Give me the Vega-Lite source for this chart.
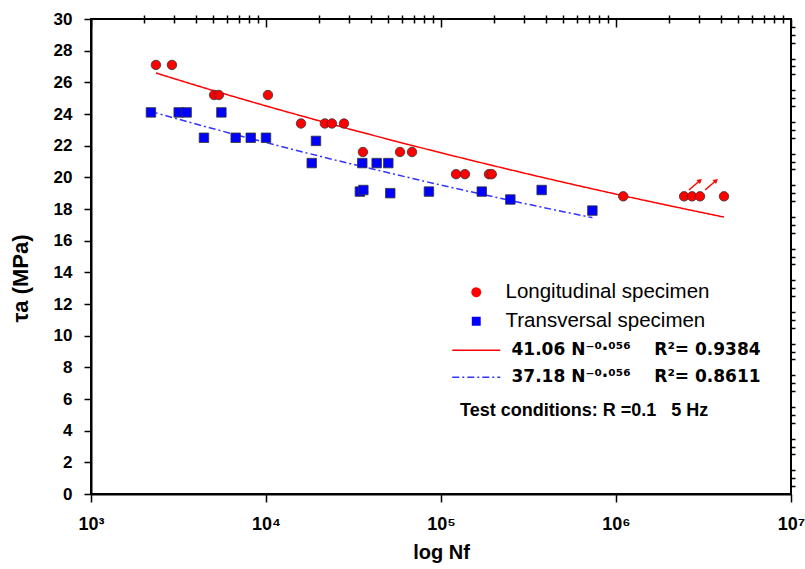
{
  "$schema": "https://vega.github.io/schema/vega-lite/v6.json",
  "width": 700,
  "height": 475,
  "autosize": {"type": "none"},
  "padding": {"left": 91, "top": 19, "right": 14, "bottom": 75},
  "background": "white",
  "config": {
    "font": "Liberation Sans",
    "view": {"stroke": "black", "strokeWidth": 2},
    "axis": {
      "grid": false,
      "domainColor": "black",
      "domainWidth": 2,
      "tickColor": "black",
      "tickWidth": 1.5,
      "labelColor": "black",
      "labelFont": "Liberation Sans",
      "labelFontWeight": "bold",
      "labelFontSize": 17,
      "titleColor": "black",
      "titleFont": "Liberation Sans",
      "titleFontWeight": "bold",
      "titleFontSize": 21,
      "labelFlush": false,
      "labelOverlap": false
    }
  },
  "datasets": {
    "points": [
      {"series": "Longitudinal specimen", "N": 2350, "tau": 27.1},
      {"series": "Longitudinal specimen", "N": 2900, "tau": 27.1},
      {"series": "Longitudinal specimen", "N": 5050, "tau": 25.2},
      {"series": "Longitudinal specimen", "N": 5380, "tau": 25.2},
      {"series": "Longitudinal specimen", "N": 10260, "tau": 25.2},
      {"series": "Longitudinal specimen", "N": 15850, "tau": 23.4},
      {"series": "Longitudinal specimen", "N": 21700, "tau": 23.4},
      {"series": "Longitudinal specimen", "N": 23800, "tau": 23.4},
      {"series": "Longitudinal specimen", "N": 27900, "tau": 23.4},
      {"series": "Longitudinal specimen", "N": 35800, "tau": 21.6},
      {"series": "Longitudinal specimen", "N": 58300, "tau": 21.6},
      {"series": "Longitudinal specimen", "N": 68300, "tau": 21.6},
      {"series": "Longitudinal specimen", "N": 121900, "tau": 20.2},
      {"series": "Longitudinal specimen", "N": 137000, "tau": 20.2},
      {"series": "Longitudinal specimen", "N": 188000, "tau": 20.2},
      {"series": "Longitudinal specimen", "N": 195000, "tau": 20.2},
      {"series": "Longitudinal specimen", "N": 1100000, "tau": 18.8},
      {"series": "Longitudinal specimen", "N": 2450000, "tau": 18.8},
      {"series": "Longitudinal specimen", "N": 2720000, "tau": 18.8},
      {"series": "Longitudinal specimen", "N": 3020000, "tau": 18.8},
      {"series": "Longitudinal specimen", "N": 4140000, "tau": 18.8},
      {"series": "Transversal specimen", "N": 2200, "tau": 24.1},
      {"series": "Transversal specimen", "N": 3170, "tau": 24.1},
      {"series": "Transversal specimen", "N": 3520, "tau": 24.1},
      {"series": "Transversal specimen", "N": 5560, "tau": 24.1},
      {"series": "Transversal specimen", "N": 4420, "tau": 22.5},
      {"series": "Transversal specimen", "N": 6710, "tau": 22.5},
      {"series": "Transversal specimen", "N": 8180, "tau": 22.5},
      {"series": "Transversal specimen", "N": 10000, "tau": 22.5},
      {"series": "Transversal specimen", "N": 18250, "tau": 20.9},
      {"series": "Transversal specimen", "N": 19300, "tau": 22.3},
      {"series": "Transversal specimen", "N": 35500, "tau": 20.9},
      {"series": "Transversal specimen", "N": 42900, "tau": 20.9},
      {"series": "Transversal specimen", "N": 50000, "tau": 20.9},
      {"series": "Transversal specimen", "N": 34400, "tau": 19.1},
      {"series": "Transversal specimen", "N": 36000, "tau": 19.2},
      {"series": "Transversal specimen", "N": 51300, "tau": 19.0},
      {"series": "Transversal specimen", "N": 85300, "tau": 19.1},
      {"series": "Transversal specimen", "N": 171000, "tau": 19.1},
      {"series": "Transversal specimen", "N": 249000, "tau": 18.6},
      {"series": "Transversal specimen", "N": 376000, "tau": 19.2},
      {"series": "Transversal specimen", "N": 733000, "tau": 17.9}
    ],
    "fits": [
      {"series": "Longitudinal fit", "N": 2350, "tau": 26.59},
      {"series": "Longitudinal fit", "N": 5000, "tau": 25.48},
      {"series": "Longitudinal fit", "N": 10000, "tau": 24.51},
      {"series": "Longitudinal fit", "N": 20000, "tau": 23.58},
      {"series": "Longitudinal fit", "N": 50000, "tau": 22.40},
      {"series": "Longitudinal fit", "N": 100000, "tau": 21.55},
      {"series": "Longitudinal fit", "N": 200000, "tau": 20.73},
      {"series": "Longitudinal fit", "N": 500000, "tau": 19.69},
      {"series": "Longitudinal fit", "N": 1000000, "tau": 18.94},
      {"series": "Longitudinal fit", "N": 2000000, "tau": 18.22},
      {"series": "Longitudinal fit", "N": 4140000, "tau": 17.49},
      {"series": "Transversal fit", "N": 2200, "tau": 24.16},
      {"series": "Transversal fit", "N": 5000, "tau": 23.07},
      {"series": "Transversal fit", "N": 10000, "tau": 22.20},
      {"series": "Transversal fit", "N": 20000, "tau": 21.35},
      {"series": "Transversal fit", "N": 50000, "tau": 20.29},
      {"series": "Transversal fit", "N": 100000, "tau": 19.51},
      {"series": "Transversal fit", "N": 200000, "tau": 18.77},
      {"series": "Transversal fit", "N": 500000, "tau": 17.83},
      {"series": "Transversal fit", "N": 733000, "tau": 17.45}
    ],
    "arrows": [
      {"N": 2610000, "tau": 19.2, "N2": 3020000, "tau2": 19.8},
      {"N": 3230000, "tau": 19.2, "N2": 3730000, "tau2": 19.8}
    ]
  },
  "resolve": {"axis": {"x": "independent", "y": "independent"}},
  "layer": [
    {
      "data": {"name": "fits"},
      "mark": {"type": "line", "strokeWidth": 1.5, "interpolate": "monotone"},
      "encoding": {
        "x": {
          "field": "N", "type": "quantitative",
          "scale": {"type": "log", "domain": [1000, 10000000]},
          "axis": {
            "values": [1000, 10000, 100000, 1000000, 10000000],
            "labelExpr": "'10' + (datum.value == 1000 ? '\u00b3' : datum.value == 10000 ? '\u2074' : datum.value == 100000 ? '\u2075' : datum.value == 1000000 ? '\u2076' : '\u2077')",
            "tickSize": 8,
            "labelPadding": 13,
            "labelFontSize": 18,
            "title": "log Nf",
            "titleFontSize": 20,
            "titleY": 48,
            "titleBaseline": "top"
          }
        },
        "y": {
          "field": "tau", "type": "quantitative",
          "scale": {"domain": [0, 30]},
          "axis": {
            "values": [0, 2, 4, 6, 8, 10, 12, 14, 16, 18, 20, 22, 24, 26, 28, 30],
            "tickSize": 7,
            "labelPadding": 12,
            "title": "\u03c4a (MPa)",
            "titleFontSize": 22,
            "titleX": -59,
            "titleY": 259,
            "titleAngle": -90,
            "titleAlign": "center",
            "titleBaseline": "bottom"
          }
        },
        "color": {
          "field": "series", "type": "nominal",
          "scale": {
            "domain": ["Longitudinal specimen", "Transversal specimen", "Longitudinal fit", "Transversal fit"],
            "range": ["#ff0000", "#0000ff", "#ff0000", "#3333ff"]
          },
          "legend": {
            "orient": "none",
            "legendX": 369,
            "legendY": 263,
            "padding": 0,
            "title": "Test conditions: R =0.1\u00a0\u00a0\u00a05 Hz",
            "titleOrient": "bottom",
            "titleAnchor": "start",
            "titleFont": "Liberation Sans",
            "titleFontSize": 18,
            "titleFontWeight": "bold",
            "titleColor": "black",
            "titlePadding": 17,
            "titleLimit": 400,
            "labelFont": "Liberation Sans",
            "labelFontSize": 20.5,
            "labelColor": "black",
            "labelOffset": 19,
            "labelLimit": 400,
            "symbolSize": 60,
            "rowPadding": 8,
            "labelExpr": "datum.value == 'Longitudinal fit' ? '41.06 N\u207b\u2070\u00b7\u2070\u2075\u2076\u00a0\u00a0\u00a0\u00a0R\u00b2= 0.9384' : datum.value == 'Transversal fit' ? '37.18 N\u207b\u2070\u00b7\u2070\u2075\u2076\u00a0\u00a0\u00a0\u00a0R\u00b2= 0.8611' : datum.value",
            "encode": {
              "symbols": {
                "update": {
                  "shape": {"signal": "datum.value == 'Longitudinal specimen' ? 'circle' : datum.value == 'Transversal specimen' ? 'square' : 'M-5,0H5'"},
                  "size": {"signal": "datum.value == 'Longitudinal specimen' ? 70 : datum.value == 'Transversal specimen' ? 55 : 92"},
                  "fill": {"signal": "datum.value == 'Longitudinal specimen' ? '#ff0000' : datum.value == 'Transversal specimen' ? '#0000ff' : 'transparent'"},
                  "stroke": {"signal": "datum.value == 'Longitudinal fit' ? '#ff0000' : datum.value == 'Transversal fit' ? '#3333ff' : 'transparent'"},
                  "strokeDash": {"signal": "datum.value == 'Transversal fit' ? [7, 3, 2, 3] : [1, 0]"},
                  "strokeWidth": {"value": 1.5},
                  "opacity": {"value": 1}
                }
              },
              "labels": {
                "update": {
                  "fontWeight": {"signal": "indexof(['Longitudinal fit', 'Transversal fit'], datum.value) >= 0 ? 'bold' : 'normal'"},
                  "font": {"signal": "indexof(['Longitudinal fit', 'Transversal fit'], datum.value) >= 0 ? 'DejaVu Sans' : 'Liberation Sans'"},
                  "fontSize": {"signal": "indexof(['Longitudinal fit', 'Transversal fit'], datum.value) >= 0 ? 17 : 20.5"},
                  "dx": {"signal": "indexof(['Longitudinal fit', 'Transversal fit'], datum.value) >= 0 ? 6 : 0"}
                }
              },
              "title": {"update": {"dx": {"value": -6}}}
            }
          }
        },
        "strokeDash": {
          "field": "series", "type": "nominal",
          "scale": {"domain": ["Longitudinal fit", "Transversal fit"], "range": [[1, 0], [7, 3, 2, 3]]},
          "legend": null
        }
      }
    },
    {
      "data": {"name": "points"},
      "mark": {"type": "point", "filled": true, "opacity": 1, "stroke": "#333333", "strokeWidth": 0.8, "size": 90},
      "encoding": {
        "x": {
          "field": "N", "type": "quantitative",
          "axis": {
            "values": [2000, 3000, 4000, 5000, 6000, 7000, 8000, 9000, 20000, 30000, 40000, 50000, 60000, 70000, 80000, 90000, 200000, 300000, 400000, 500000, 600000, 700000, 800000, 900000, 2000000, 3000000, 4000000, 5000000, 6000000, 7000000, 8000000, 9000000],
            "labels": false, "domain": false, "tickSize": 4, "title": null
          }
        },
        "y": {
          "field": "tau", "type": "quantitative",
          "axis": {
            "values": [0.5, 1, 1.5, 2.5, 3, 3.5, 4.5, 5, 5.5, 6.5, 7, 7.5, 8.5, 9, 9.5, 10.5, 11, 11.5, 12.5, 13, 13.5, 14.5, 15, 15.5, 16.5, 17, 17.5, 18.5, 19, 19.5, 20.5, 21, 21.5, 22.5, 23, 23.5, 24.5, 25, 25.5, 26.5, 27, 27.5, 28.5, 29, 29.5],
            "labels": false, "domain": false, "tickSize": 4, "title": null
          }
        },
        "color": {"field": "series", "type": "nominal"},
        "shape": {
          "field": "series", "type": "nominal",
          "scale": {"domain": ["Longitudinal specimen", "Transversal specimen"], "range": ["circle", "square"]},
          "legend": null
        }
      }
    },
    {
      "data": {"name": "arrows"},
      "mark": {"type": "rule", "color": "#ff0000", "strokeWidth": 1.5},
      "encoding": {
        "x": {
          "field": "N", "type": "quantitative",
          "axis": {
            "orient": "top",
            "values": [1000, 10000, 100000, 1000000, 10000000],
            "labels": false, "domain": false, "tickSize": -8, "title": null
          }
        },
        "y": {"field": "tau", "type": "quantitative", "axis": null},
        "x2": {"field": "N2"},
        "y2": {"field": "tau2"}
      }
    },
    {
      "data": {"name": "arrows"},
      "mark": {"type": "point", "shape": "triangle-up", "filled": true, "color": "#ff0000", "opacity": 1, "size": 30, "angle": 49},
      "encoding": {
        "x": {
          "field": "N2", "type": "quantitative",
          "axis": {
            "orient": "top",
            "values": [2000, 3000, 4000, 5000, 6000, 7000, 8000, 9000, 20000, 30000, 40000, 50000, 60000, 70000, 80000, 90000, 200000, 300000, 400000, 500000, 600000, 700000, 800000, 900000, 2000000, 3000000, 4000000, 5000000, 6000000, 7000000, 8000000, 9000000],
            "labels": false, "domain": false, "tickSize": -4, "title": null
          }
        },
        "y": {"field": "tau2", "type": "quantitative", "axis": null}
      }
    }
  ]
}
